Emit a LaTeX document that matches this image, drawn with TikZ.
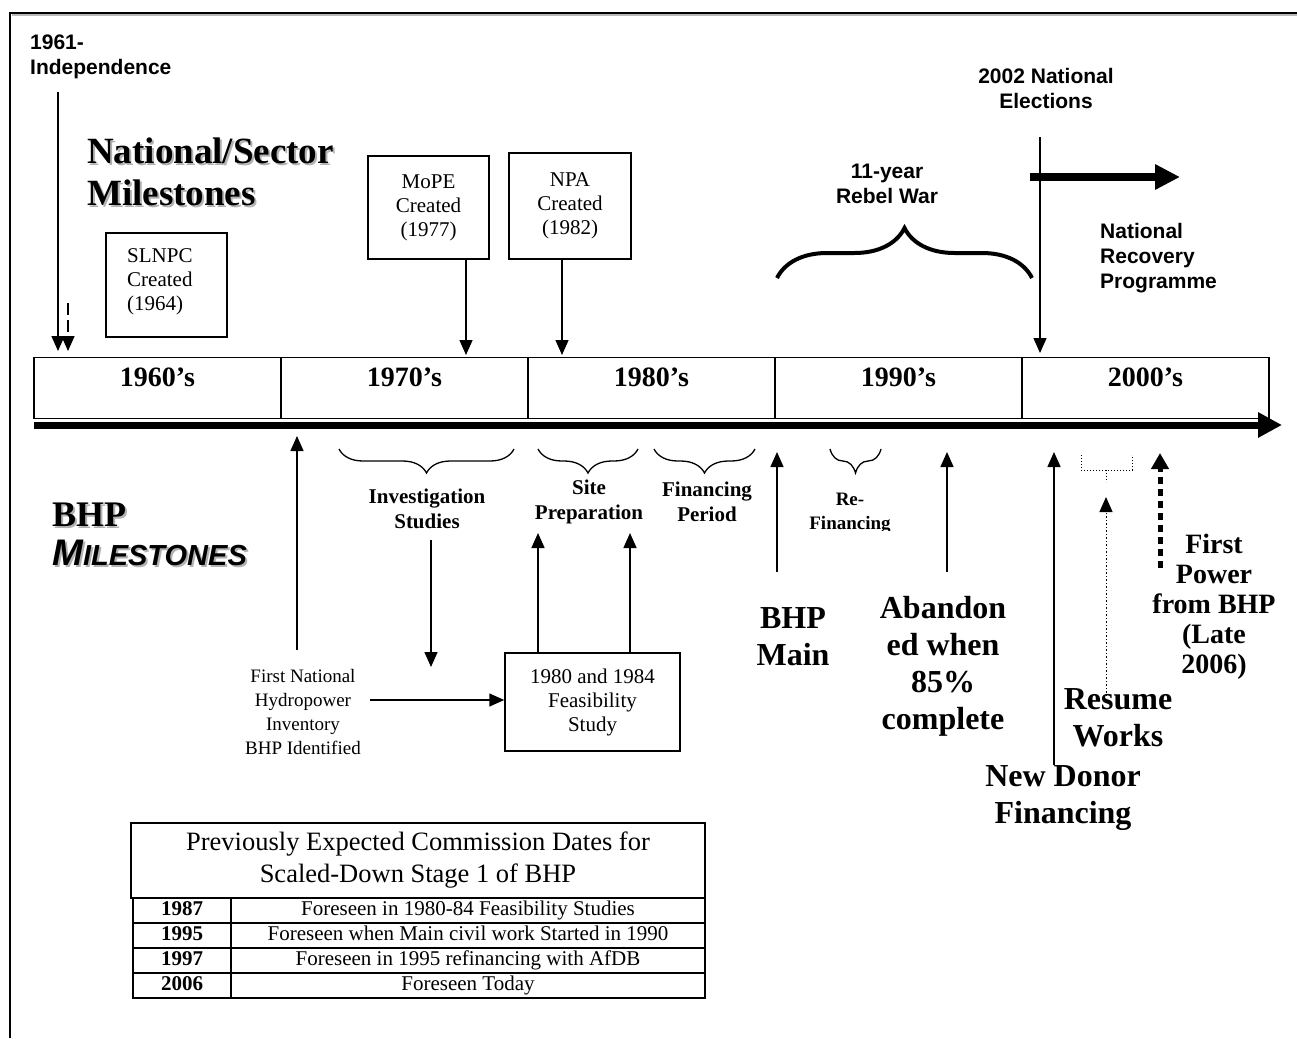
\documentclass[tikz,border=0pt]{standalone}
\usepackage{fontspec}
\setmainfont{Liberation Serif}
\setsansfont{Liberation Sans}
\usetikzlibrary{arrows.meta,decorations.pathreplacing}
\begin{document}
\begin{tikzpicture}[x=1pt,y=-1pt,
  arr/.style={line width=1.5pt,-{Triangle[width=13pt,length=15pt]}},
  bx/.style={draw,line width=1.5pt,inner sep=0pt},
  rm/.style={font=\fontsize{21}{24}\selectfont,align=center,inner sep=0pt},
  rb/.style={font=\bfseries\fontsize{21}{25}\selectfont,align=center,inner sep=0pt},
  big/.style={font=\bfseries\fontsize{32}{37}\selectfont,align=center,inner sep=0pt},
  sfb/.style={font=\sffamily\bfseries\fontsize{21}{25}\selectfont,inner sep=0pt},
  yr/.style={font=\bfseries\fontsize{28}{32}\selectfont,inner sep=0pt},
  brc/.style={decorate,decoration={brace,amplitude=24pt,mirror},line width=1.3pt},
  cell/.style={draw,line width=1.5pt,minimum height=25,inner sep=0pt,text height=14pt,text depth=4pt}
]
\useasboundingbox (0,0) rectangle (1297,1038);
% frame
\draw[gray!55,line width=2pt] (12,15.5) -- (1297,15.5);
\draw[line width=2pt] (10,1038) -- (10,13) -- (1297,13);

% timeline boxes
\node[bx,minimum width=247,minimum height=61] (t60) at (157.5,388) {};
\node[bx,minimum width=247,minimum height=61] (t70) at (404.5,388) {};
\node[bx,minimum width=247,minimum height=61] (t80) at (651.5,388) {};
\node[bx,minimum width=247,minimum height=61] (t90) at (898.5,388) {};
\node[bx,minimum width=247,minimum height=61] (t00) at (1145.5,388) {};
\node[yr] (l60) at (157.5,377) {1960’s};
\node[yr] (l70) at (404.5,377) {1970’s};
\node[yr] (l80) at (651.5,377) {1980’s};
\node[yr] (l90) at (898.5,377) {1990’s};
\node[yr] (l00) at (1145.5,377) {2000’s};
\coordinate (tls) at (34,425);
\coordinate (tle) at (1282,425);
\draw[line width=7pt,-{Triangle[width=24pt,length=24pt]}] (tls) -- (tle);

% top left
\node[sfb,align=left,anchor=west] (indep) at (30,57) {1961-\\Independence};
\coordinate (i1s) at (58,92); \coordinate (i1e) at (58,351);
\draw[arr] (i1s) -- (i1e);
\coordinate (i2s) at (68,303); \coordinate (i2e) at (68,351);
\draw[arr,dash pattern=on 12pt off 5pt] (i2s) -- (i2e);

\node[font=\bfseries\fontsize{37}{42}\selectfont,align=left,anchor=west,inner sep=0pt,text=gray!60] at (89,174) {National/Sector\\Milestones};
\node[font=\bfseries\fontsize{37}{42}\selectfont,align=left,anchor=west,inner sep=0pt] (natsec) at (87,172) {National/Sector\\Milestones};

% national boxes
\node[bx,minimum width=121,minimum height=104] (slnpc) at (166.5,285) {};
\node[rm,align=left,anchor=west] (slnpct) at (127,282) {SLNPC\\Created\\(1964)};
\node[bx,minimum width=121,minimum height=103,rm] (mope) at (428.5,207.5) {MoPE\\Created\\(1977)};
\node[bx,minimum width=122,minimum height=106,rm] (npa) at (570,206) {NPA\\Created\\(1982)};
\draw[arr] ([xshift=37.5pt]mope.south) -- ([xshift=37.5pt]mope.south |- 0,355);
\draw[arr] ([xshift=-8pt]npa.south) -- ([xshift=-8pt]npa.south |- 0,355);

% top right
\node[sfb,align=center] (elect) at (1046,88) {2002 National\\Elections};
\coordinate (els) at (1040,137); \coordinate (ele) at (1040,353);
\draw[arr] (els) -- (ele);
\coordinate (nrs) at (1030,177); \coordinate (nre) at (1180,177);
\draw[line width=7.5pt,-{Triangle[width=24pt,length=25pt]}] (nrs) -- (nre);
\node[sfb,align=center] (war) at (887,184) {11-year\\Rebel War};
\coordinate (wbs) at (777,278); \coordinate (wbe) at (1032,278);
\draw[decorate,decoration={brace,amplitude=50pt},line width=4pt] (wbs) -- (wbe);
\node[sfb,align=left,anchor=west] (nrp) at (1100,258) {National\\Recovery\\Programme};

% BHP milestones label
\node[font=\bfseries\fontsize{36}{40}\selectfont,anchor=west,inner sep=0pt,text=gray!60] at (54,517) {BHP};
\node[font=\bfseries\fontsize{36}{40}\selectfont,anchor=west,inner sep=0pt] (bhpl) at (52,515) {BHP};
\node[font=\sffamily\bfseries\itshape\fontsize{37}{40}\selectfont,anchor=west,inner sep=0pt,text=gray!60] at (54,555) {M{\fontsize{29}{32}\selectfont ILESTONES}};
\node[font=\sffamily\bfseries\itshape\fontsize{37}{40}\selectfont,anchor=west,inner sep=0pt] (mill) at (52,553) {M{\fontsize{29}{32}\selectfont ILESTONES}};

% lower left
\node[rm,font=\fontsize{19}{24}\selectfont] (inv) at (303,712) {First National\\Hydropower\\Inventory\\BHP Identified};
\coordinate (invs) at (297,650); \coordinate (inve) at (297,436);
\draw[arr] (invs) -- (inve);
\node[bx,minimum width=175,minimum height=98,rm] (feas) at (592.5,702) {1980 and 1984\\Feasibility\\Study};
\coordinate (ha) at (370,700);
\draw[arr] (ha) -- (ha -| feas.west);
\coordinate (fa1) at (538,533); \coordinate (fa2) at (630,533);
\draw[arr] (fa1 |- feas.north) -- (fa1);
\draw[arr] (fa2 |- feas.north) -- (fa2);

% braces below
\draw[brc] (339,449) -- (514,449);
\draw[brc] (538,449) -- (638,449);
\draw[brc] (654,449) -- (755,449);
\draw[brc] (830,449) -- (881,449);
\node[rb] (invst) at (427,509) {Investigation\\Studies};
\node[rb] (site) at (589,502) {Site\\Preparation};
\node[rb] (finp) at (707,502) {Financing\\Period};
\begin{scope}
\clip (790,480) rectangle (910,530);
\node[rb,font=\bfseries\fontsize{19}{24}\selectfont] (refin) at (850,513) {Re-\\Financing};
\end{scope}
\coordinate (isa) at (431,540); \coordinate (ise) at (431,667);
\draw[arr] (isa) -- (ise);

% lower right
\coordinate (bms) at (777,572); \coordinate (bme) at (777,452);
\draw[arr] (bms) -- (bme);
\node[big] (bhpmain) at (793,637) {BHP\\Main};
\coordinate (abs) at (947,572); \coordinate (abe) at (947,452);
\draw[arr] (abs) -- (abe);
\node[big] (aband) at (943,666) {Abandon\\ed when\\85\%\\complete};
\coordinate (nds) at (1054,765); \coordinate (nde) at (1054,452);
\draw[arr] (nds) -- (nde);
\node[big] (newd) at (1063,798) {New Donor\\Financing};
\draw[dotted,line width=1pt] (1081,455) -- (1081,470) -- (1132,470) -- (1132,455);
\coordinate (rbs) at (1106,470); \coordinate (rbe) at (1106,482);
\draw[dotted,line width=1pt] (rbs) -- (rbe);
\coordinate (rws) at (1106,696); \coordinate (rwe) at (1106,497);
\draw[arr,dotted,line width=1pt] (rws) -- (rwe);
\node[big] (resume) at (1118,718) {Resume\\Works};
\coordinate (fps) at (1160,568); \coordinate (fpe) at (1160,453);
\draw[line width=5pt,dash pattern=on 7pt off 5pt,-{Triangle[width=17pt,length=16pt]}] (fps) -- (fpe);
\node[big,font=\bfseries\fontsize{28}{30}\selectfont] (firstp) at (1214,607) {First\\Power\\from BHP\\(Late\\2006)};

% table
\node[draw,line width=1.5pt,minimum width=574,minimum height=75,align=center,inner sep=0pt,font=\fontsize{26.5}{32}\selectfont] (th) at (418,860.5) {Previously Expected Commission Dates for\\Scaled-Down Stage 1 of BHP};
\node[cell,minimum width=98,font=\bfseries\fontsize{21}{24}\selectfont] (y1) at (182,910.5) {1987};
\node[cell,minimum width=474,font=\fontsize{21}{24}\selectfont] (d1) at (468,910.5) {Foreseen in 1980-84 Feasibility Studies};
\node[cell,minimum width=98,font=\bfseries\fontsize{21}{24}\selectfont] (y2) at (182,935.5) {1995};
\node[cell,minimum width=474,font=\fontsize{21}{24}\selectfont] (d2) at (468,935.5) {Foreseen when Main civil work Started in 1990};
\node[cell,minimum width=98,font=\bfseries\fontsize{21}{24}\selectfont] (y3) at (182,960.5) {1997};
\node[cell,minimum width=474,font=\fontsize{21}{24}\selectfont] (d3) at (468,960.5) {Foreseen in 1995 refinancing with AfDB};
\node[cell,minimum width=98,font=\bfseries\fontsize{21}{24}\selectfont] (y4) at (182,985.5) {2006};
\node[cell,minimum width=474,font=\fontsize{21}{24}\selectfont] (d4) at (468,985.5) {Foreseen Today};
\end{tikzpicture}
\end{document}
